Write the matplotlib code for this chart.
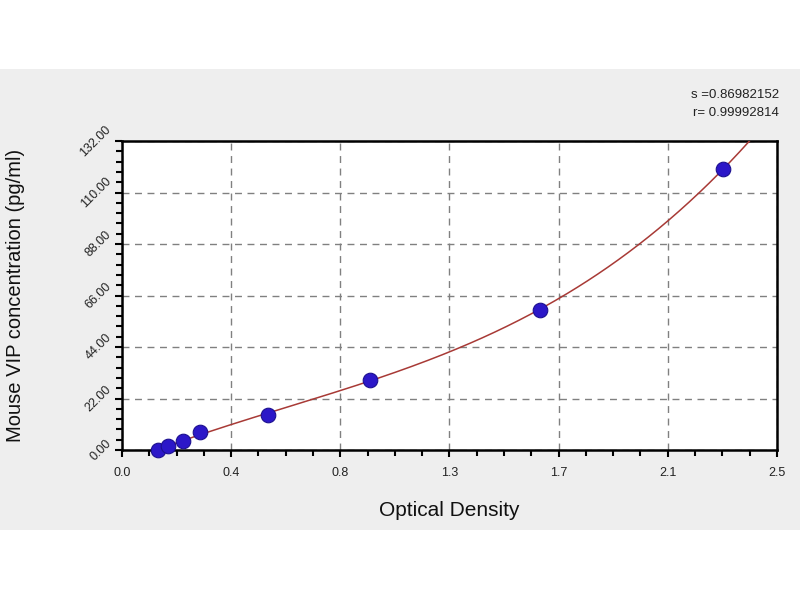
import numpy as np
import matplotlib
matplotlib.use("Agg")
import matplotlib.pyplot as plt
from matplotlib.patches import Rectangle
from matplotlib.ticker import AutoMinorLocator

plt.rcParams['font.family'] = ['Liberation Sans', 'DejaVu Sans']

# standard curve points
optical_density = [0.139, 0.177, 0.234, 0.298, 0.559, 0.948, 1.595, 2.295]
concentration = [0.0, 1.875, 3.75, 7.5, 15.0, 30.0, 60.0, 120.0]

x_ticks = [0.0, 2.5 / 6, 2 * 2.5 / 6, 3 * 2.5 / 6, 4 * 2.5 / 6, 5 * 2.5 / 6, 2.5]
x_tick_labels = ['0.0', '0.4', '0.8', '1.3', '1.7', '2.1', '2.5']
y_ticks = [0, 22, 44, 66, 88, 110, 132]
y_tick_labels = ['0.00', '22.00', '44.00', '66.00', '88.00', '110.00', '132.00']

fit_text = ['s =0.86982152', 'r= 0.99992814']

fig = plt.figure(figsize=(8, 6), dpi=100)
fig.patch.set_facecolor('white')
# grey band behind the plot
fig.patches.append(Rectangle((0, 70 / 600), 1, 461 / 600, transform=fig.transFigure,
                             facecolor='#eeeeee', edgecolor='none', zorder=-5))

ax = fig.add_axes([0.1525, 0.25, 0.8185, 0.515])
ax.set_zorder(2)
ax.set_facecolor('white')

# fitted curve (cubic through the standards)
coef = np.polyfit(optical_density, concentration, 3)
xs = np.linspace(min(optical_density), 2.45, 300)
ax.plot(xs, np.polyval(coef, xs), color='#a83a36', linewidth=1.1, zorder=3)

ax.plot(optical_density, concentration, linestyle='none', marker='o', markersize=10.5,
        markerfacecolor='#2c17c8', markeredgecolor='#1c1090', markeredgewidth=0.8, zorder=4,
        clip_on=False)

ax.set_xlim(0, 2.5)
ax.set_ylim(0, 132)
ax.set_xticks(x_ticks)
ax.set_xticklabels(x_tick_labels)
ax.set_yticks(y_ticks)
ax.set_yticklabels(y_tick_labels, rotation=45, va='center', ha='right')
ax.xaxis.set_minor_locator(AutoMinorLocator(4))
ax.yaxis.set_minor_locator(AutoMinorLocator(5))

ax.tick_params(which='major', direction='out', length=5, width=1.5, labelsize=9,
               labelcolor='#222222', color='black')
ax.tick_params(which='minor', direction='out', length=4, width=1.5, color='black')
ax.tick_params(axis='x', pad=7)
ax.tick_params(axis='y', pad=1)

for side in ['left', 'bottom', 'top', 'right']:
    ax.spines[side].set_linewidth(1.8)
    ax.spines[side].set_color('black')

ax.grid(True, which='major', color='#808080', linestyle=(0, (5, 4)), linewidth=1.0)
ax.set_axisbelow(True)

ax.set_xlabel('Optical Density', fontsize=15, color='#111111', va='center')
ax.xaxis.set_label_coords(0.5, -0.197)
ax.set_ylabel('Mouse VIP concentration (pg/ml)', fontsize=14.5, color='#111111', va='center')
ax.yaxis.set_label_coords(-0.163, 0.5)

fig.text(0.974, 1 - 95 / 600, fit_text[0], ha='right', va='center', fontsize=9.5, color='#222222')
fig.text(0.974, 1 - 113 / 600, fit_text[1], ha='right', va='center', fontsize=9.5, color='#222222')

fig.savefig('out.png', dpi=100, facecolor=fig.get_facecolor())
